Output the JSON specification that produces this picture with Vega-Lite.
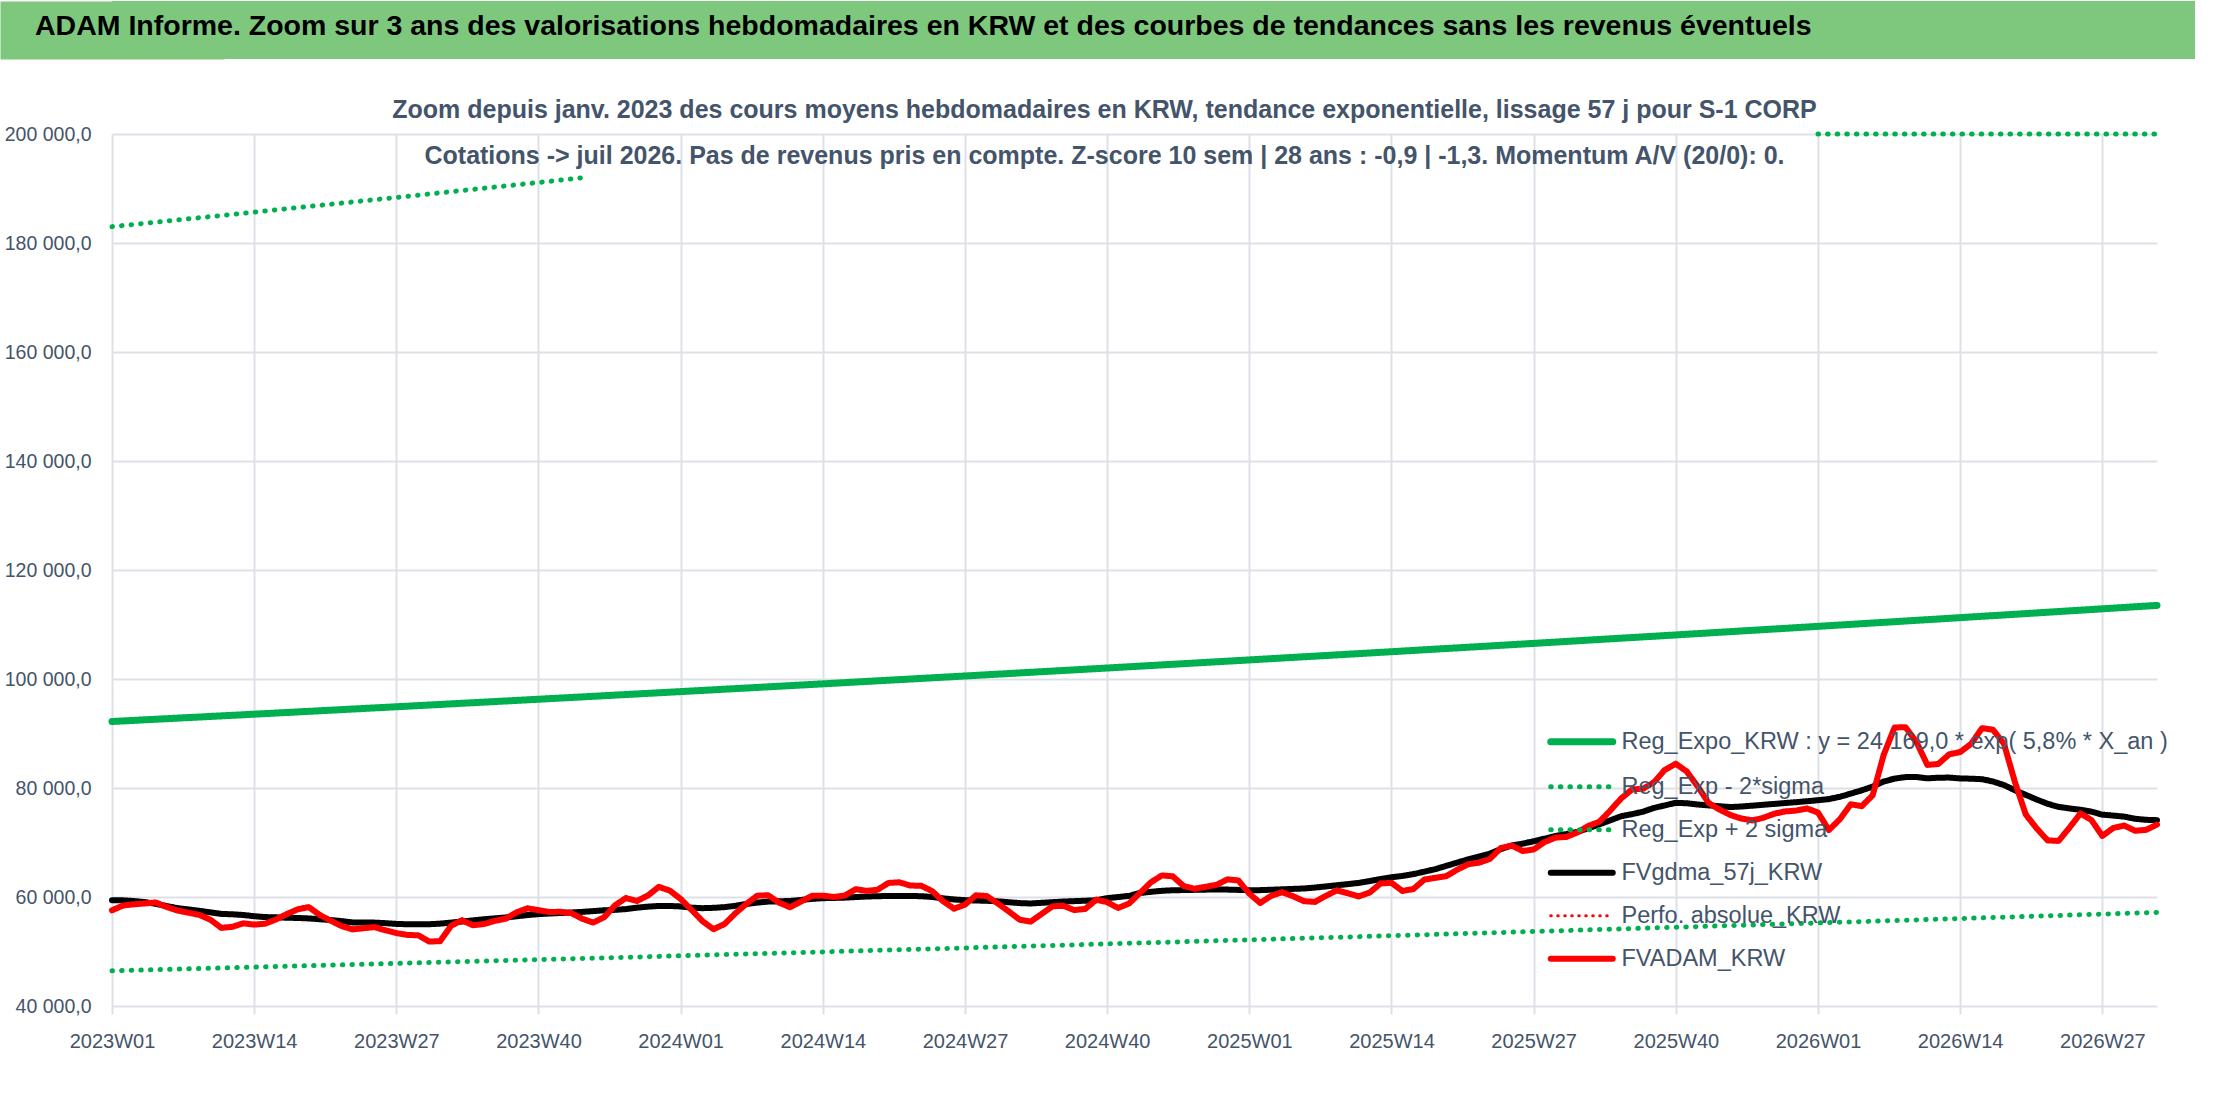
{
  "$schema": "https://vega.github.io/schema/vega-lite/v6.json",
  "padding": {"top": -5, "left": 0, "right": 0, "bottom": 0},
  "background": "white",
  "columns": 1,
  "align": "none",
  "spacing": 39,
  "config": {
    "locale": {"number": {"decimal": ",", "thousands": "\u00a0", "grouping": [3], "currency": ["", "\u00a0€"]}},
    "view": {"stroke": null},
    "font": "Liberation Sans, Arial, sans-serif"
  },
  "concat": [
    {
      "width": 2083,
      "height": 58,
      "view": {"fill": "#7ec87e", "stroke": null},
      "title": {
        "text": "ADAM Informe. Zoom sur 3 ans des valorisations hebdomadaires en KRW et des courbes de tendances sans les revenus éventuels",
        "anchor": "start", "frame": "group", "orient": "top", "baseline": "top",
        "offset": -45, "dx": -77, "zindex": 2,
        "fontSize": 28.5, "fontWeight": "bold", "color": "#000000"
      },
      "data": {"values": [{"t": ""}]},
      "mark": {"type": "text"},
      "encoding": {
        "text": {"field": "t"},
        "y": {
          "datum": 0, "type": "quantitative",
          "axis": {"title": null, "labels": false, "ticks": false, "grid": false, "domainColor": "#7ec87e", "domainWidth": 224, "domainCap": "butt", "zindex": 0}
        }
      }
    },
    {
      "width": 2045,
      "height": 872,
      "title": {
        "text": [
          "Zoom depuis janv. 2023 des cours moyens hebdomadaires en KRW, tendance exponentielle, lissage 57 j pour S-1 CORP",
          "Cotations -> juil 2026. Pas de revenus pris en compte. Z-score 10 sem | 28 ans : -0,9 | -1,3. Momentum A/V (20/0): 0."
        ],
        "anchor": "middle", "frame": "group", "orient": "top", "baseline": "top",
        "offset": -45, "dx": -30, "lineHeight": 46,
        "fontSize": 25, "fontWeight": "bold", "color": "#44546A"
      },
      "data": {"values": [
        {"w":"2023W01","mid":92200,"lo":46450,"hi":183000,"ma":59390,"fv":57560},
        {"w":"2023W02","mid":92303,"lo":46502,"hi":183205,"ma":59390,"fv":58430},
        {"w":"2023W03","mid":92406,"lo":46554,"hi":183409,"ma":59260,"fv":58660},
        {"w":"2023W04","mid":92510,"lo":46606,"hi":183614,"ma":59060,"fv":58810},
        {"w":"2023W05","mid":92613,"lo":46658,"hi":183818,"ma":58750,"fv":59000},
        {"w":"2023W06","mid":92716,"lo":46710,"hi":184023,"ma":58320,"fv":58170},
        {"w":"2023W07","mid":92819,"lo":46762,"hi":184228,"ma":57950,"fv":57510},
        {"w":"2023W08","mid":92922,"lo":46814,"hi":184432,"ma":57710,"fv":57110},
        {"w":"2023W09","mid":93026,"lo":46866,"hi":184637,"ma":57460,"fv":56700},
        {"w":"2023W10","mid":93129,"lo":46918,"hi":184841,"ma":57180,"fv":55830},
        {"w":"2023W11","mid":93232,"lo":46970,"hi":185046,"ma":56890,"fv":54330},
        {"w":"2023W12","mid":93335,"lo":47022,"hi":185251,"ma":56830,"fv":54530},
        {"w":"2023W13","mid":93438,"lo":47074,"hi":185455,"ma":56700,"fv":55170},
        {"w":"2023W14","mid":93542,"lo":47126,"hi":185660,"ma":56470,"fv":54930},
        {"w":"2023W15","mid":93647,"lo":47179,"hi":185868,"ma":56320,"fv":55100},
        {"w":"2023W16","mid":93751,"lo":47232,"hi":186076,"ma":56270,"fv":55880},
        {"w":"2023W17","mid":93856,"lo":47284,"hi":186283,"ma":56200,"fv":56890},
        {"w":"2023W18","mid":93961,"lo":47337,"hi":186491,"ma":56150,"fv":57750},
        {"w":"2023W19","mid":94065,"lo":47390,"hi":186699,"ma":56070,"fv":58140},
        {"w":"2023W20","mid":94170,"lo":47443,"hi":186907,"ma":55920,"fv":56700},
        {"w":"2023W21","mid":94275,"lo":47496,"hi":187115,"ma":55770,"fv":55650},
        {"w":"2023W22","mid":94380,"lo":47548,"hi":187322,"ma":55570,"fv":54660},
        {"w":"2023W23","mid":94484,"lo":47601,"hi":187530,"ma":55330,"fv":54060},
        {"w":"2023W24","mid":94589,"lo":47654,"hi":187738,"ma":55300,"fv":54270},
        {"w":"2023W25","mid":94694,"lo":47707,"hi":187946,"ma":55300,"fv":54470},
        {"w":"2023W26","mid":94798,"lo":47759,"hi":188154,"ma":55200,"fv":53900},
        {"w":"2023W27","mid":94903,"lo":47812,"hi":188362,"ma":55060,"fv":53370},
        {"w":"2023W28","mid":95009,"lo":47866,"hi":188573,"ma":55000,"fv":53050},
        {"w":"2023W29","mid":95116,"lo":47919,"hi":188784,"ma":55000,"fv":52970},
        {"w":"2023W30","mid":95222,"lo":47973,"hi":188995,"ma":55000,"fv":51830},
        {"w":"2023W31","mid":95328,"lo":48026,"hi":189206,"ma":55110,"fv":51890},
        {"w":"2023W32","mid":95435,"lo":48080,"hi":189417,"ma":55300,"fv":54710},
        {"w":"2023W33","mid":95541,"lo":48133,"hi":189628,"ma":55500,"fv":55740},
        {"w":"2023W34","mid":95647,"lo":48187,"hi":189839,"ma":55700,"fv":54810},
        {"w":"2023W35","mid":95753,"lo":48240,"hi":190050,"ma":55910,"fv":55040},
        {"w":"2023W36","mid":95860,"lo":48294,"hi":190261,"ma":56080,"fv":55610},
        {"w":"2023W37","mid":95966,"lo":48347,"hi":190472,"ma":56250,"fv":56030},
        {"w":"2023W38","mid":96072,"lo":48401,"hi":190683,"ma":56460,"fv":57200},
        {"w":"2023W39","mid":96179,"lo":48454,"hi":190894,"ma":56690,"fv":57920},
        {"w":"2023W40","mid":96285,"lo":48507,"hi":191104,"ma":56860,"fv":57580},
        {"w":"2023W41","mid":96393,"lo":48561,"hi":191318,"ma":56970,"fv":57250},
        {"w":"2023W42","mid":96501,"lo":48616,"hi":191532,"ma":57060,"fv":57280},
        {"w":"2023W43","mid":96608,"lo":48670,"hi":191746,"ma":57160,"fv":57050},
        {"w":"2023W44","mid":96716,"lo":48724,"hi":191960,"ma":57270,"fv":56010},
        {"w":"2023W45","mid":96824,"lo":48779,"hi":null,"ma":57410,"fv":55300},
        {"w":"2023W46","mid":96932,"lo":48833,"hi":null,"ma":57560,"fv":56280},
        {"w":"2023W47","mid":97040,"lo":48887,"hi":null,"ma":57640,"fv":58500},
        {"w":"2023W48","mid":97147,"lo":48941,"hi":null,"ma":57780,"fv":59820},
        {"w":"2023W49","mid":97255,"lo":48996,"hi":null,"ma":58040,"fv":59270},
        {"w":"2023W50","mid":97363,"lo":49050,"hi":null,"ma":58230,"fv":60270},
        {"w":"2023W51","mid":97471,"lo":49104,"hi":null,"ma":58350,"fv":61860},
        {"w":"2023W52","mid":97578,"lo":49159,"hi":null,"ma":58350,"fv":61180},
        {"w":"2024W01","mid":97686,"lo":49213,"hi":null,"ma":58270,"fv":59640},
        {"w":"2024W02","mid":97795,"lo":49268,"hi":null,"ma":58040,"fv":57620},
        {"w":"2024W03","mid":97905,"lo":49323,"hi":null,"ma":57950,"fv":55560},
        {"w":"2024W04","mid":98014,"lo":49379,"hi":null,"ma":58010,"fv":54100},
        {"w":"2024W05","mid":98124,"lo":49434,"hi":null,"ma":58140,"fv":55020},
        {"w":"2024W06","mid":98233,"lo":49489,"hi":null,"ma":58380,"fv":57000},
        {"w":"2024W07","mid":98342,"lo":49544,"hi":null,"ma":58710,"fv":58730},
        {"w":"2024W08","mid":98452,"lo":49599,"hi":null,"ma":58970,"fv":60240},
        {"w":"2024W09","mid":98561,"lo":49655,"hi":null,"ma":59160,"fv":60320},
        {"w":"2024W10","mid":98671,"lo":49710,"hi":null,"ma":59210,"fv":58960},
        {"w":"2024W11","mid":98780,"lo":49765,"hi":null,"ma":59270,"fv":58120},
        {"w":"2024W12","mid":98889,"lo":49820,"hi":null,"ma":59450,"fv":59160},
        {"w":"2024W13","mid":98999,"lo":49875,"hi":null,"ma":59650,"fv":60210},
        {"w":"2024W14","mid":99108,"lo":49930,"hi":null,"ma":59780,"fv":60250},
        {"w":"2024W15","mid":99219,"lo":49986,"hi":null,"ma":59830,"fv":60000},
        {"w":"2024W16","mid":99330,"lo":50042,"hi":null,"ma":59880,"fv":60260},
        {"w":"2024W17","mid":99441,"lo":50098,"hi":null,"ma":59990,"fv":61430},
        {"w":"2024W18","mid":99552,"lo":50154,"hi":null,"ma":60080,"fv":61130},
        {"w":"2024W19","mid":99663,"lo":50210,"hi":null,"ma":60150,"fv":61320},
        {"w":"2024W20","mid":99773,"lo":50265,"hi":null,"ma":60180,"fv":62580},
        {"w":"2024W21","mid":99884,"lo":50321,"hi":null,"ma":60180,"fv":62700},
        {"w":"2024W22","mid":99995,"lo":50377,"hi":null,"ma":60180,"fv":62100},
        {"w":"2024W23","mid":100106,"lo":50433,"hi":null,"ma":60150,"fv":62060},
        {"w":"2024W24","mid":100217,"lo":50489,"hi":null,"ma":60000,"fv":61080},
        {"w":"2024W25","mid":100328,"lo":50545,"hi":null,"ma":59750,"fv":59220},
        {"w":"2024W26","mid":100439,"lo":50600,"hi":null,"ma":59550,"fv":57860},
        {"w":"2024W27","mid":100550,"lo":50656,"hi":null,"ma":59420,"fv":58600},
        {"w":"2024W28","mid":100663,"lo":50713,"hi":null,"ma":59360,"fv":60310},
        {"w":"2024W29","mid":100775,"lo":50770,"hi":null,"ma":59300,"fv":60170},
        {"w":"2024W30","mid":100888,"lo":50826,"hi":null,"ma":59200,"fv":58810},
        {"w":"2024W31","mid":101000,"lo":50883,"hi":null,"ma":59040,"fv":57360},
        {"w":"2024W32","mid":101113,"lo":50940,"hi":null,"ma":58880,"fv":55830},
        {"w":"2024W33","mid":101226,"lo":50997,"hi":null,"ma":58810,"fv":55480},
        {"w":"2024W34","mid":101338,"lo":51054,"hi":null,"ma":58930,"fv":56880},
        {"w":"2024W35","mid":101451,"lo":51110,"hi":null,"ma":59050,"fv":58300},
        {"w":"2024W36","mid":101563,"lo":51167,"hi":null,"ma":59160,"fv":58380},
        {"w":"2024W37","mid":101676,"lo":51224,"hi":null,"ma":59240,"fv":57600},
        {"w":"2024W38","mid":101789,"lo":51281,"hi":null,"ma":59320,"fv":57820},
        {"w":"2024W39","mid":101901,"lo":51337,"hi":null,"ma":59400,"fv":59500},
        {"w":"2024W40","mid":102014,"lo":51394,"hi":null,"ma":59780,"fv":59050},
        {"w":"2024W41","mid":102128,"lo":51452,"hi":null,"ma":59990,"fv":57990},
        {"w":"2024W42","mid":102242,"lo":51509,"hi":null,"ma":60200,"fv":58800},
        {"w":"2024W43","mid":102357,"lo":51567,"hi":null,"ma":60740,"fv":60740},
        {"w":"2024W44","mid":102471,"lo":51624,"hi":null,"ma":60950,"fv":62700},
        {"w":"2024W45","mid":102585,"lo":51682,"hi":null,"ma":61130,"fv":63960},
        {"w":"2024W46","mid":102699,"lo":51739,"hi":null,"ma":61240,"fv":63790},
        {"w":"2024W47","mid":102813,"lo":51797,"hi":null,"ma":61270,"fv":62010},
        {"w":"2024W48","mid":102928,"lo":51854,"hi":null,"ma":61310,"fv":61520},
        {"w":"2024W49","mid":103042,"lo":51912,"hi":null,"ma":61350,"fv":61870},
        {"w":"2024W50","mid":103156,"lo":51969,"hi":null,"ma":61390,"fv":62230},
        {"w":"2024W51","mid":103270,"lo":52027,"hi":null,"ma":61360,"fv":63240},
        {"w":"2024W52","mid":103384,"lo":52084,"hi":null,"ma":61300,"fv":63030},
        {"w":"2025W01","mid":103498,"lo":52141,"hi":null,"ma":61240,"fv":60620},
        {"w":"2025W02","mid":103614,"lo":52199,"hi":null,"ma":61260,"fv":58900},
        {"w":"2025W03","mid":103730,"lo":52258,"hi":null,"ma":61330,"fv":60220},
        {"w":"2025W04","mid":103846,"lo":52316,"hi":null,"ma":61410,"fv":60880},
        {"w":"2025W05","mid":103962,"lo":52375,"hi":null,"ma":61490,"fv":60150},
        {"w":"2025W06","mid":104078,"lo":52433,"hi":null,"ma":61560,"fv":59230},
        {"w":"2025W07","mid":104193,"lo":52491,"hi":null,"ma":61730,"fv":59100},
        {"w":"2025W08","mid":104309,"lo":52550,"hi":null,"ma":61940,"fv":60210},
        {"w":"2025W09","mid":104425,"lo":52608,"hi":null,"ma":62150,"fv":61210},
        {"w":"2025W10","mid":104541,"lo":52667,"hi":null,"ma":62360,"fv":60700},
        {"w":"2025W11","mid":104657,"lo":52725,"hi":null,"ma":62580,"fv":60100},
        {"w":"2025W12","mid":104773,"lo":52783,"hi":null,"ma":62920,"fv":60810},
        {"w":"2025W13","mid":104889,"lo":52842,"hi":null,"ma":63290,"fv":62480},
        {"w":"2025W14","mid":105005,"lo":52900,"hi":null,"ma":63620,"fv":62600},
        {"w":"2025W15","mid":105123,"lo":52959,"hi":null,"ma":63860,"fv":61100},
        {"w":"2025W16","mid":105240,"lo":53018,"hi":null,"ma":64200,"fv":61460},
        {"w":"2025W17","mid":105358,"lo":53078,"hi":null,"ma":64650,"fv":63190},
        {"w":"2025W18","mid":105475,"lo":53137,"hi":null,"ma":65110,"fv":63510},
        {"w":"2025W19","mid":105593,"lo":53196,"hi":null,"ma":65710,"fv":63820},
        {"w":"2025W20","mid":105710,"lo":53255,"hi":null,"ma":66310,"fv":65000},
        {"w":"2025W21","mid":105828,"lo":53314,"hi":null,"ma":66900,"fv":66000},
        {"w":"2025W22","mid":105945,"lo":53374,"hi":null,"ma":67400,"fv":66300},
        {"w":"2025W23","mid":106063,"lo":53433,"hi":null,"ma":67970,"fv":66990},
        {"w":"2025W24","mid":106180,"lo":53492,"hi":null,"ma":68800,"fv":68990},
        {"w":"2025W25","mid":106298,"lo":53551,"hi":null,"ma":69450,"fv":69430},
        {"w":"2025W26","mid":106415,"lo":53611,"hi":null,"ma":69790,"fv":68440},
        {"w":"2025W27","mid":106533,"lo":53670,"hi":null,"ma":70210,"fv":68720},
        {"w":"2025W28","mid":106652,"lo":53730,"hi":null,"ma":70710,"fv":70080},
        {"w":"2025W29","mid":106772,"lo":53790,"hi":null,"ma":71200,"fv":70900},
        {"w":"2025W30","mid":106891,"lo":53851,"hi":null,"ma":71530,"fv":71030},
        {"w":"2025W31","mid":107010,"lo":53911,"hi":null,"ma":71950,"fv":71850},
        {"w":"2025W32","mid":107130,"lo":53971,"hi":null,"ma":72620,"fv":73040},
        {"w":"2025W33","mid":107249,"lo":54031,"hi":null,"ma":73320,"fv":73800},
        {"w":"2025W34","mid":107368,"lo":54091,"hi":null,"ma":74070,"fv":75840},
        {"w":"2025W35","mid":107487,"lo":54152,"hi":null,"ma":74820,"fv":78090},
        {"w":"2025W36","mid":107607,"lo":54212,"hi":null,"ma":75200,"fv":79740},
        {"w":"2025W37","mid":107726,"lo":54272,"hi":null,"ma":75660,"fv":79860},
        {"w":"2025W38","mid":107845,"lo":54332,"hi":null,"ma":76340,"fv":81050},
        {"w":"2025W39","mid":107965,"lo":54392,"hi":null,"ma":76810,"fv":83340},
        {"w":"2025W40","mid":108084,"lo":54452,"hi":null,"ma":77280,"fv":84450},
        {"w":"2025W41","mid":108205,"lo":54513,"hi":null,"ma":77200,"fv":83030},
        {"w":"2025W42","mid":108326,"lo":54574,"hi":null,"ma":76970,"fv":80290},
        {"w":"2025W43","mid":108447,"lo":54635,"hi":null,"ma":76810,"fv":77260},
        {"w":"2025W44","mid":108568,"lo":54696,"hi":null,"ma":76650,"fv":76030},
        {"w":"2025W45","mid":108689,"lo":54757,"hi":null,"ma":76500,"fv":75040},
        {"w":"2025W46","mid":108810,"lo":54817,"hi":null,"ma":76600,"fv":74390},
        {"w":"2025W47","mid":108931,"lo":54878,"hi":null,"ma":76760,"fv":74050},
        {"w":"2025W48","mid":109052,"lo":54939,"hi":null,"ma":76920,"fv":74540},
        {"w":"2025W49","mid":109173,"lo":55000,"hi":null,"ma":77080,"fv":75270},
        {"w":"2025W50","mid":109294,"lo":55061,"hi":null,"ma":77240,"fv":75700},
        {"w":"2025W51","mid":109415,"lo":55122,"hi":null,"ma":77400,"fv":75860},
        {"w":"2025W52","mid":109536,"lo":55183,"hi":null,"ma":77570,"fv":76240},
        {"w":"2026W01","mid":109657,"lo":55244,"hi":200000,"ma":77760,"fv":75500},
        {"w":"2026W02","mid":109780,"lo":55306,"hi":200000,"ma":77960,"fv":72280},
        {"w":"2026W03","mid":109903,"lo":55368,"hi":200000,"ma":78380,"fv":74270},
        {"w":"2026W04","mid":110025,"lo":55429,"hi":200000,"ma":78980,"fv":77010},
        {"w":"2026W05","mid":110148,"lo":55491,"hi":200000,"ma":79570,"fv":76660},
        {"w":"2026W06","mid":110271,"lo":55553,"hi":200000,"ma":80270,"fv":78660},
        {"w":"2026W07","mid":110394,"lo":55615,"hi":200000,"ma":81190,"fv":86040},
        {"w":"2026W08","mid":110517,"lo":55677,"hi":200000,"ma":81720,"fv":91100},
        {"w":"2026W09","mid":110639,"lo":55738,"hi":200000,"ma":82000,"fv":91160},
        {"w":"2026W10","mid":110762,"lo":55800,"hi":200000,"ma":82020,"fv":88460},
        {"w":"2026W11","mid":110885,"lo":55862,"hi":200000,"ma":81770,"fv":84230},
        {"w":"2026W12","mid":111008,"lo":55924,"hi":200000,"ma":81890,"fv":84410},
        {"w":"2026W13","mid":111130,"lo":55986,"hi":200000,"ma":81910,"fv":86180},
        {"w":"2026W14","mid":111253,"lo":56048,"hi":200000,"ma":81750,"fv":86590},
        {"w":"2026W15","mid":111378,"lo":56111,"hi":200000,"ma":81710,"fv":88100},
        {"w":"2026W16","mid":111502,"lo":56173,"hi":200000,"ma":81610,"fv":90980},
        {"w":"2026W17","mid":111627,"lo":56236,"hi":200000,"ma":81190,"fv":90690},
        {"w":"2026W18","mid":111751,"lo":56299,"hi":200000,"ma":80550,"fv":88160},
        {"w":"2026W19","mid":111876,"lo":56362,"hi":200000,"ma":79590,"fv":81160},
        {"w":"2026W20","mid":112000,"lo":56424,"hi":200000,"ma":78740,"fv":75140},
        {"w":"2026W21","mid":112125,"lo":56487,"hi":200000,"ma":77890,"fv":72580},
        {"w":"2026W22","mid":112250,"lo":56550,"hi":200000,"ma":77100,"fv":70390},
        {"w":"2026W23","mid":112374,"lo":56612,"hi":200000,"ma":76530,"fv":70280},
        {"w":"2026W24","mid":112499,"lo":56675,"hi":200000,"ma":76250,"fv":72730},
        {"w":"2026W25","mid":112623,"lo":56738,"hi":200000,"ma":76010,"fv":75330},
        {"w":"2026W26","mid":112748,"lo":56800,"hi":200000,"ma":75660,"fv":74130},
        {"w":"2026W27","mid":112872,"lo":56863,"hi":200000,"ma":75110,"fv":71200},
        {"w":"2026W28","mid":112998,"lo":56927,"hi":200000,"ma":74940,"fv":72660},
        {"w":"2026W29","mid":113124,"lo":56990,"hi":200000,"ma":74740,"fv":73120},
        {"w":"2026W30","mid":113249,"lo":57054,"hi":200000,"ma":74350,"fv":72150},
        {"w":"2026W31","mid":113375,"lo":57118,"hi":200000,"ma":74160,"fv":72320},
        {"w":"2026W32","mid":113501,"lo":57181,"hi":200000,"ma":74100,"fv":73290}
      ]},
      "transform": [{"fold": ["mid", "lo", "hi", "ma", "fv"], "as": ["serie", "val"]}],
      "mark": {"type": "line", "strokeCap": "round", "strokeJoin": "round", "invalid": "break-paths-filter-domains"},
      "encoding": {
        "x": {
          "field": "w", "type": "ordinal", "sort": null,
          "scale": {"type": "point", "padding": 0},
          "axis": {
            "title": null, "labelAngle": 0,
            "values": ["2023W01","2023W14","2023W27","2023W40","2024W01","2024W14","2024W27","2024W40","2025W01","2025W14","2025W27","2025W40","2026W01","2026W14","2026W27"],
            "grid": true, "gridColor": "#dde1e7", "gridWidth": 2,
            "domain": false, "ticks": true, "tickSize": 8, "tickColor": "#dde1e7", "tickWidth": 2,
            "labelFontSize": 20, "labelColor": "#44546A", "labelPadding": 17
          }
        },
        "y": {
          "field": "val", "type": "quantitative",
          "scale": {"domain": [40000, 200000], "nice": false, "zero": false},
          "axis": {
            "title": null,
            "values": [40000, 60000, 80000, 100000, 120000, 140000, 160000, 180000, 200000],
            "format": ",.1f",
            "grid": true, "gridColor": "#dde1e7", "gridWidth": 2,
            "domain": false, "ticks": false,
            "labelFontSize": 19.5, "labelColor": "#44546A", "labelPadding": 21, "minExtent": 112
          }
        },
        "color": {
          "field": "serie", "type": "nominal",
          "scale": {"domain": ["mid", "lo", "hi", "ma", "perf", "fv"], "range": ["#00B050", "#00B050", "#00B050", "#000000", "#FF0000", "#FF0000"]},
          "legend": {
            "title": null, "orient": "none", "legendX": 1458, "legendY": 729, "padding": 0,
            "symbolType": "stroke", "symbolSize": 3844, "rowPadding": 18,
            "labelFontSize": 23.5, "labelColor": "#44546A", "labelLimit": 1200, "labelOffset": 28,
            "labelExpr": "datum.label == 'mid' ? 'Reg_Expo_KRW : y = 24 169,0 * exp( 5,8% *  X_an )' : datum.label == 'lo' ? 'Reg_Exp - 2*sigma' : datum.label == 'hi' ? 'Reg_Exp + 2 sigma' : datum.label == 'ma' ? 'FVgdma_57j_KRW' : datum.label == 'perf' ? 'Perfo. absolue_KRW' : 'FVADAM_KRW'",
            "encode": {"symbols": {"update": {
              "strokeWidth": {"signal": "datum.value == 'mid' ? 7 : datum.value == 'perf' ? 3 : (datum.value == 'lo' || datum.value == 'hi') ? 5 : 6"},
              "strokeCap": {"value": "round"}
            }}}
          }
        },
        "strokeDash": {
          "field": "serie", "type": "nominal",
          "scale": {"domain": ["mid", "lo", "hi", "ma", "perf", "fv"], "range": [[1, 0], [0.5, 9.1], [0.5, 9.1], [1, 0], [0.5, 6.5], [1, 0]]},
          "legend": {
            "title": null, "orient": "none", "legendX": 1458, "legendY": 729, "padding": 0,
            "symbolType": "stroke", "symbolSize": 3844, "rowPadding": 18,
            "labelFontSize": 23.5, "labelColor": "#44546A", "labelLimit": 1200, "labelOffset": 28,
            "labelExpr": "datum.label == 'mid' ? 'Reg_Expo_KRW : y = 24 169,0 * exp( 5,8% *  X_an )' : datum.label == 'lo' ? 'Reg_Exp - 2*sigma' : datum.label == 'hi' ? 'Reg_Exp + 2 sigma' : datum.label == 'ma' ? 'FVgdma_57j_KRW' : datum.label == 'perf' ? 'Perfo. absolue_KRW' : 'FVADAM_KRW'",
            "encode": {"symbols": {"update": {
              "strokeWidth": {"signal": "datum.value == 'mid' ? 7 : datum.value == 'perf' ? 3 : (datum.value == 'lo' || datum.value == 'hi') ? 5 : 6"},
              "strokeCap": {"value": "round"}
            }}}
          }
        },
        "strokeWidth": {
          "condition": [
            {"test": "datum.serie === 'mid'", "value": 7},
            {"test": "datum.serie === 'lo' || datum.serie === 'hi'", "value": 5}
          ],
          "value": 6
        }
      }
    }
  ]
}
